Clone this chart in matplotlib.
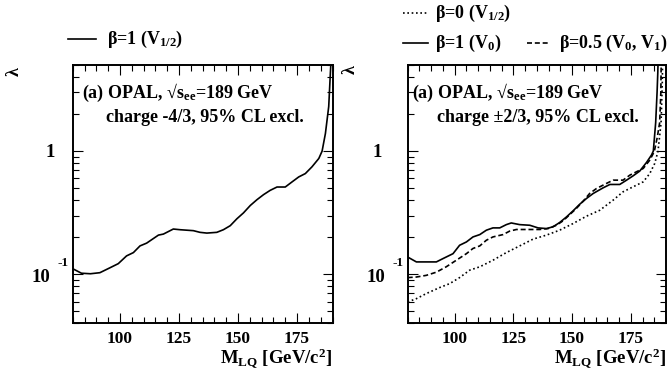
import matplotlib
matplotlib.use("Agg")
import matplotlib.pyplot as plt
from matplotlib.lines import Line2D
from matplotlib.ticker import FixedLocator, MultipleLocator, LogLocator, NullFormatter

plt.rcParams["font.family"] = ["Liberation Serif", "DejaVu Serif"]
plt.rcParams["font.weight"] = "bold"
plt.rcParams["mathtext.fontset"] = "custom"
plt.rcParams["mathtext.rm"] = "Liberation Serif:bold"
plt.rcParams["mathtext.bf"] = "Liberation Serif:bold"
plt.rcParams["mathtext.it"] = "Liberation Serif:bold:italic"

# ---- charge -4/3 : beta=1 (V_1/2)
m_q43 = [80.0, 83.7, 87.5, 91.5, 95.8, 99.3, 102.8, 105.7, 108.5, 111.3, 116.3, 118.4,
         122.6, 125.5, 131.1, 133.9, 136.8, 141.0, 143.8, 146.7, 149.5, 152.3, 155.2,
         158.0, 160.8, 163.6, 166.5, 170.0, 172.8, 175.7, 178.5, 181.3, 184.2, 185.6,
         187.0, 188.4, 189.1, 189.5]
lam_q43 = [0.111, 0.102, 0.101, 0.103, 0.113, 0.122, 0.141, 0.150, 0.170, 0.179, 0.208,
           0.212, 0.233, 0.230, 0.226, 0.219, 0.216, 0.219, 0.230, 0.248, 0.282, 0.315,
           0.362, 0.403, 0.443, 0.480, 0.511, 0.511, 0.561, 0.617, 0.657, 0.745, 0.871,
           1.0, 1.39, 2.3, 4.3, 6.0]

# ---- charge +-2/3 : beta=1 (V_0)
m_b1 = [80.0, 83.7, 92.2, 95.0, 99.3, 102.1, 105.0, 107.8, 110.7, 113.5, 116.3, 119.2,
        122.0, 124.1, 127.7, 132.0, 135.5, 139.1, 141.9, 144.7, 147.6, 150.4, 153.3,
        156.1, 159.0, 163.2, 166.1, 170.3, 173.2, 176.0, 178.8, 181.7, 183.8, 184.6,
        185.6, 186.2, 186.5, 186.7]
lam_b1 = [0.138, 0.126, 0.126, 0.134, 0.147, 0.172, 0.183, 0.201, 0.210, 0.228, 0.238,
          0.238, 0.253, 0.261, 0.253, 0.250, 0.238, 0.235, 0.243, 0.263, 0.292, 0.327,
          0.371, 0.412, 0.453, 0.503, 0.536, 0.536, 0.581, 0.630, 0.688, 0.809, 0.928,
          1.0, 1.7, 3.0, 4.3, 6.0]

# ---- charge +-2/3 : beta=0.5 (V_0, V_1)
m_b05 = [80.0, 83.7, 87.9, 92.2, 96.4, 100.7, 105.0, 107.8, 110.7, 113.5, 116.3, 120.6,
         123.4, 126.3, 130.5, 136.2, 139.8, 143.3, 146.2, 149.0, 151.8, 154.7, 157.5,
         160.4, 164.6, 167.5, 171.7, 174.6, 177.4, 180.3, 183.1, 185.0, 186.3, 187.3,
         187.8, 188.0]
lam_b05 = [0.094, 0.095, 0.098, 0.104, 0.115, 0.130, 0.147, 0.162, 0.170, 0.189, 0.201,
           0.210, 0.224, 0.231, 0.231, 0.231, 0.235, 0.250, 0.272, 0.305, 0.342, 0.392,
           0.453, 0.497, 0.546, 0.581, 0.581, 0.638, 0.679, 0.723, 0.845, 0.99, 1.3,
           1.7, 3.0, 6.0]

# ---- charge +-2/3 : beta=0 (V_1/2)
m_b0 = [80.0, 83.7, 87.9, 93.6, 97.9, 102.1, 106.4, 110.7, 116.3, 122.0, 127.7, 133.4,
        139.1, 144.7, 150.4, 156.1, 161.8, 167.5, 171.7, 176.0, 180.3, 183.1, 185.2,
        186.6, 187.9, 188.4, 188.6]
lam_b0 = [0.0596, 0.0634, 0.0697, 0.078, 0.084, 0.094, 0.108, 0.115, 0.130, 0.150,
          0.170, 0.193, 0.208, 0.228, 0.258, 0.296, 0.331, 0.400, 0.467, 0.513, 0.563,
          0.658, 0.794, 1.0, 1.7, 3.5, 6.0]

x_ticks = [100, 125, 150, 175]
x_range = (80, 190)
y_range = (0.04, 5.0)

W, H = 667, 376
fig = plt.figure(figsize=(W / 100, H / 100), dpi=100)


def fx(px):
    return px / W


def fy(py):
    return 1 - py / H


ax_top, ax_bot = 65.0, 323.3
axL = fig.add_axes([fx(72.7), fy(ax_bot), (332.5 - 72.7) / W, (ax_bot - ax_top) / H])
axR = fig.add_axes([fx(407.7), fy(ax_bot), (666.0 - 407.7) / W, (ax_bot - ax_top) / H])

LW = 1.2
DOTTED = (0, (1.0, 1.6))
DASHED = (0, (3, 1.7))

for ax in (axL, axR):
    ax.set_yscale("log")
    ax.set_xlim(*x_range)
    ax.set_ylim(*y_range)
    ax.xaxis.set_major_locator(FixedLocator(x_ticks))
    ax.xaxis.set_minor_locator(MultipleLocator(5))
    ax.yaxis.set_major_locator(LogLocator(base=10, subs=(1.0,)))
    ax.yaxis.set_minor_locator(LogLocator(base=10, subs=range(2, 10)))
    ax.yaxis.set_major_formatter(NullFormatter())
    ax.yaxis.set_minor_formatter(NullFormatter())
    ax.tick_params(which="both", direction="in", top=True, right=True, width=0.8)
    ax.tick_params(which="major", length=7.5)
    ax.tick_params(which="minor", length=4)
    ax.tick_params(axis="x", which="major", pad=5.5, labelsize=12.5)
    for lab in ax.get_xticklabels():
        lab.set_fontweight("bold")
    for sp in ax.spines.values():
        sp.set_linewidth(1.4)
    ax.text(1.0, -(363 - ax_bot) / (ax_bot - ax_top),
            r"$\mathbf{M_{LQ}}$ [GeV/c$\mathbf{^2}$]", transform=ax.transAxes,
            ha="right", va="baseline", fontsize=13.5, fontweight="bold")

# curves
axL.plot(m_q43, lam_q43, color="black", lw=LW, solid_joinstyle="round")
axR.plot(m_b0, lam_b0, color="black", lw=LW, linestyle=DOTTED)
axR.plot(m_b05, lam_b05, color="black", lw=LW, linestyle=DASHED)
axR.plot(m_b1, lam_b1, color="black", lw=LW, solid_joinstyle="round")

# panel captions
axL.text(0.036, 0.893, r"(a) OPAL, √$\mathbf{s_{ee}}$=189 GeV", transform=axL.transAxes,
         ha="left", va="center", fontsize=13)
axL.text(0.128, 0.796, "charge -4/3, 95% CL excl.", transform=axL.transAxes,
         ha="left", va="center", fontsize=13)
axR.text(0.017, 0.893, r"(a) OPAL, √$\mathbf{s_{ee}}$=189 GeV", transform=axR.transAxes,
         ha="left", va="center", fontsize=13)
axR.text(0.113, 0.796, "charge ±2/3, 95% CL excl.", transform=axR.transAxes,
         ha="left", va="center", fontsize=13)

# y tick labels (1 and 10^-1 with a raised exponent)
for x_one, x_ten, x_exp in ((55, 50.5, 57.5), (382, 385.5, 392.5)):
    fig.text(fx(x_one), fy(157), "1", ha="right", va="baseline", fontsize=13.5)
    fig.text(fx(x_ten), fy(281.5), "10", ha="right", va="baseline", fontsize=13.5)
    fig.text(fx(x_exp), fy(265.5), "-1", ha="left", va="baseline", fontsize=9.5)

# y axis titles
fig.text(fx(14), fy(72), "λ", rotation=90, ha="center", va="center", fontsize=13)
fig.text(fx(350), fy(70), "λ", rotation=90, ha="center", va="center", fontsize=13)


def legend_entry(x0, x1, y, ls, label, xt):
    fig.add_artist(Line2D([fx(x0), fx(x1)], [fy(y), fy(y)], transform=fig.transFigure,
                          color="black", lw=LW, linestyle=ls))
    fig.text(fx(xt), fy(y), label, ha="left", va="center", fontsize=13)


legend_entry(68, 96, 39, "-", r"β=1 ($\mathbf{V_{1/2}}$)", 107)
legend_entry(403, 428, 13, DOTTED, r"β=0 ($\mathbf{V_{1/2}}$)", 435)
legend_entry(403, 428, 43, "-", r"β=1 ($\mathbf{V_0}$)", 435)
legend_entry(527, 549, 43, DASHED, r"β=0.5 ($\mathbf{V_0}$, $\mathbf{V_1}$)", 559)

fig.savefig("out.png", dpi=100)
